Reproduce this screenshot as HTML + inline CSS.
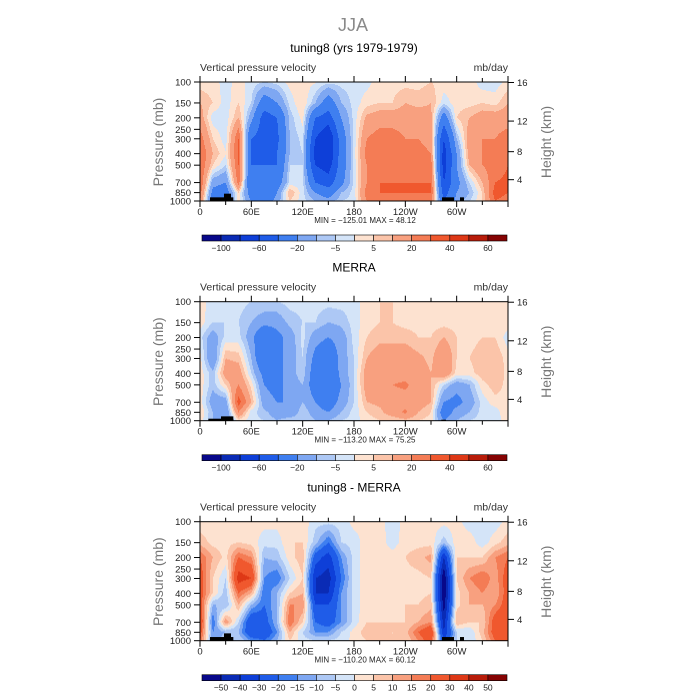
<!DOCTYPE html>
<html><head><meta charset="utf-8">
<style>
body{margin:0;background:#fff;}
svg{display:block;font-family:"Liberation Sans",sans-serif;}
</style></head>
<body>
<svg id="chart" width="700" height="700" viewBox="0 0 700 700" xmlns="http://www.w3.org/2000/svg">
<rect width="700" height="700" fill="#fff"/>
<text x="353" y="31" text-anchor="middle" font-size="18" fill="#8a8a8a">JJA</text>
</svg>
<script>
// ---------- data ----------
const levels = [100,150,200,300,400,500,700,850,1000];
const lons = [0,15,30,45,60,75,90,105,120,135,150,165,180,195,210,225,240,255,270,285,300,315,330,345,360];
const xTickLabels = ["0","60E","120E","180","120W","60W"];
const xTickLons = [0,60,120,180,240,300];
const pTicks = [100,150,200,250,300,400,500,700,850,1000];
const zTicks = [16,12,8,4];
const zTickP = [101,213,385,662];
const panelTitles = ["tuning8 (yrs 1979-1979)","MERRA","tuning8 - MERRA"];
const minMaxText = ["MIN = \u2212125.01   MAX =   48.12","MIN = \u2212113.20   MAX =   75.25","MIN = \u2212110.20   MAX =   60.12"];
const bounds1 = [-100,-80,-60,-40,-20,-10,-5,0,5,10,20,30,40,50,60];
const bounds3 = [-50,-40,-30,-20,-15,-10,-5,0,5,10,15,20,30,40,50];
const cbLabels1 = ["\u2212100","","\u221260","","\u221220","","\u22125","","5","","20","","40","","60"];
const cbLabels3 = ["\u221250","\u221240","\u221230","\u221220","\u221215","\u221210","\u22125","0","5","10","15","20","30","40","50"];
const palette = ["#08088a","#0a2bb5","#0e3fd8","#1f5ce8","#3f7ff0","#7ea7f2","#adc8f5","#d4e4f8","#fde2d0","#fbc4a9","#f8a07f","#f47c55","#f0582e","#de3816","#b81c0a","#850303"];
// columns by longitude, values top(100mb) -> bottom(1000mb)
const tuning8 = [
[2,10,15,25,30,30,30,25,20],[2,5,-3,5,10,5,-15,-25,-30],[-2,-3,-3,-3,0.5,-5,-20,-30,-30],
[2,5,10,30,30,30,25,5,3],[-2,-5,-15,-40,-40,-40,-40,-30,-20],[-5,-30,-50,-50,-50,-40,-40,-40,-30],
[-3,-20,-40,-45,-40,-40,-30,-20,-15],[2,-3,-8,-10,-10,-5,-3,10,5],[3,5,2,-3,-5,-5,-3,-3,-3],
[0.5,-10,-40,-60,-70,-60,-40,-20,-10],[-3,-30,-50,-80,-80,-70,-50,-30,-15],[-3,-10,-20,-30,-30,-30,-25,-10,-5],
[-3,-3,-3,-3,-3,-3,-3,-3,-3],[-2,3,12,20,25,20,20,25,20],[3,5,15,25,30,25,30,30,25],
[3,5,15,25,25,25,30,30,25],[3,10,15,20,25,25,30,30,25],[3,8,15,20,25,25,30,30,25],
[5,10,12,15,20,25,30,30,25],[3,-3,-30,-60,-70,-70,-60,-50,-40],[3,3,5,-10,-20,-20,-25,-20,-15],
[3,3,10,15,15,10,-5,-10,-5],[-3,5,15,20,20,20,10,5,5],[-3,3,15,20,20,25,30,35,30],
[2,10,15,25,30,30,32,30,25]];
const merra = [
[3,3,-3,2,3,3,3,5,3],[-3,-5,-15,-20,-8,-8,-15,-10,-10],[-3,-5,-3,10,15,5,-15,-20,-20],
[-3,-5,-3,8,15,20,35,20,3],[-5,-10,-15,-10,-5,3,10,-3,-3],[-5,-15,-40,-40,-25,-20,-15,-8,-5],
[-5,-15,-25,-25,-25,-25,-20,-15,-10],[-3,-8,-15,-15,-15,-15,-20,-20,-5],[-3,-5,-3,-5,-5,-10,-10,-5,-5],
[-3,-5,-15,-25,-30,-30,-20,-15,-10],[-3,-10,-20,-35,-40,-40,-30,-20,-10],[-3,-8,-15,-15,-15,-20,-15,-10,-5],
[-3,-3,-3,-5,-5,-5,-5,-3,-3],[3,3,5,10,15,15,10,5,3],[5,5,8,15,20,15,12,8,5],
[5,5,8,15,15,20,15,15,5],[3,3,8,15,15,22,15,22,8],[3,3,5,12,15,15,15,10,5],
[3,3,5,8,10,10,10,5,3],[3,3,10,20,20,-5,-20,-30,-20],[3,3,5,5,3,-15,-25,-15,-10],
[3,3,3,5,3,-10,-15,-10,-5],[3,3,5,8,8,3,-3,-3,-3],[3,3,5,10,10,8,3,-3,-3],
[3,3,-3,2,3,3,3,5,3]];
const diff = [
[2,8,20,25,25,25,30,25,20],[2,3,10,5,5,-10,-20,-15,-15],[2,3,3,-5,-8,-10,15,-10,-5],
[2,5,20,35,20,10,-5,-10,-5],[2,3,15,30,10,-10,-30,-30,-15],[2,-3,-10,-15,-20,-20,-25,-30,-20],
[2,-3,-8,-20,-10,-10,-10,-15,-10],[3,5,3,-5,5,15,20,10,5],[3,5,8,5,10,15,5,-5,-3],
[-3,-8,-25,-40,-40,-30,-20,-15,-5],[-3,-20,-35,-45,-40,-30,-25,-15,-5],[-3,-5,-15,-20,-15,-15,-15,-5,-3],
[2,-3,-3,-3,-3,-3,-3,2,2],[2,3,3,3,3,3,5,8,5],[2,3,3,3,3,3,5,8,5],
[-3,-3,3,3,3,3,5,5,5],[2,3,5,3,3,5,5,8,5],[2,3,8,3,3,5,10,20,15],
[2,3,12,5,5,8,15,30,25],[2,-8,-40,-60,-60,-55,-45,-40,-30],[2,3,5,5,3,3,10,-5,-5],
[-3,3,5,15,10,10,5,-5,-5],[-3,-3,5,20,15,10,5,8,5],[-3,3,15,12,10,15,25,25,20],
[2,8,20,25,25,25,30,25,20]];
const fields = [tuning8, merra, diff];
const boundsList = [bounds1, bounds1, bounds3];
const cbLabelList = [cbLabels1, cbLabels1, cbLabels3];

// ---------- layout ----------
const NS="http://www.w3.org/2000/svg";
const svg=document.getElementById('chart');
const X0=200, W=308, H=119;
const tops=[82,301.7,521.7];
function mk(tag,attrs,parent){const e=document.createElementNS(NS,tag);for(const k in attrs)e.setAttribute(k,attrs[k]);(parent||svg).appendChild(e);return e;}
function xScale(lon){return X0+lon/360*W;}
function yScale(p,o){return o+H*Math.log10(p/100);}
function colorFor(v,b){let i=0;while(i<b.length&&v>=b[i])i++;return palette[i];}
function valueAt(F,lon,p){
  let fi=lon/15; let i=Math.min(Math.floor(fi),lons.length-2); let tx=fi-i;
  let lp=Math.log10(p); let j=0;
  while(j<levels.length-2&&lp>Math.log10(levels[j+1]))j++;
  let a=Math.log10(levels[j]),c=Math.log10(levels[j+1]);
  let ty=Math.max(0,Math.min(1,(lp-a)/(c-a)));
  const v00=F[i][j],v10=F[i+1][j],v01=F[i][j+1],v11=F[i+1][j+1];
  return (v00*(1-tx)+v10*tx)*(1-ty)+(v01*(1-tx)+v11*tx)*ty;
}

for(let k=0;k<3;k++){
  const o=tops[k], F=fields[k], B=boundsList[k];
  const g=mk('g',{});
  
  
  const t=mk('text',{x:354,y:o-30,'text-anchor':'middle','font-size':12,fill:'#000'},g);
  t.textContent=panelTitles[k];
  
  
  const s1=mk('text',{x:200,y:o-11,'font-size':10.5,fill:'#333'},g);
  s1.textContent='Vertical pressure velocity';
  
  
  const s2=mk('text',{x:508,y:o-11,'text-anchor':'end','font-size':10.5,fill:'#333'},g);
  s2.textContent='mb/day';
  
  
  // field
  const fg=mk('g',{'shape-rendering':'crispEdges'},g);
  
  
  for(let py=0;py<H;py++){
    const p=100*Math.pow(10,(py+0.5)/H);
    let runStart=0, runCol=null;
    for(let px=0;px<=W;px++){
      let col=null;
      if(px<W){col=colorFor(valueAt(F,(px+0.5)/W*360,p),B);}
      if(col!==runCol){
        if(runCol!==null){
          const r=mk('rect',{x:X0+runStart,y:o+py,width:px-runStart,height:1,fill:runCol},fg);
          
          
        }
        runStart=px; runCol=col;
      }
    }
  }
  // topography mask
  const tg=mk('g',{fill:'#000'},g);
  
  
  const blocks=[[180,250,471],[222,243,460],[876,912,471],[930,942,471]];
  const blocksM=[[175,250,476],[213,250,469],[874,888,479]];
  const bl = k===1?blocksM:blocks;
  bl.forEach(b=>{mk('rect',{x:150+b[0]/3,y:o+(b[2]-125)/3,width:(b[1]-b[0])/3,height:H-(b[2]-125)/3},tg);});
  // frame
  const fr=mk('rect',{x:X0,y:o,width:W,height:H,fill:'none',stroke:'#000','stroke-width':1},g);
  
  
  // x ticks
  for(let lon=0;lon<=360;lon+=30){
    const x=xScale(lon), major=lon%60===0;
    mk('line',{x1:x,x2:x,y1:o+H,y2:o+H+(major?6:4),stroke:'#000'},g);
    mk('line',{x1:x,x2:x,y1:o,y2:o-(major?6:4),stroke:'#000'},g);
  }
  xTickLons.forEach((lon,i)=>{
    const tx=mk('text',{x:xScale(lon),y:o+H+14,'text-anchor':'middle','font-size':9.5,fill:'#222'},g);
    tx.textContent=xTickLabels[i];
    
    
  });
  // y ticks
  pTicks.forEach(p=>{
    const y=yScale(p,o);
    mk('line',{x1:X0-6,x2:X0,y1:y,y2:y,stroke:'#000'},g);
    const ty=mk('text',{x:X0-9,y:y+3.5,'text-anchor':'end','font-size':9.5,fill:'#222'},g);
    ty.textContent=p;
    
    
  });
  zTicks.forEach((z,i)=>{
    const y=yScale(zTickP[i],o);
    mk('line',{x1:X0+W,x2:X0+W+6,y1:y,y2:y,stroke:'#000'},g);
    const tz=mk('text',{x:X0+W+9,y:y+3.5,'font-size':9.5,fill:'#222'},g);
    tz.textContent=z;
    
    
  });
  const yt=mk('text',{x:0,y:0,'text-anchor':'middle','font-size':14,fill:'#777',transform:`translate(163,${o+60}) rotate(-90)`},g);
  yt.textContent='Pressure (mb)';
  
  
  const rt=mk('text',{x:0,y:0,'text-anchor':'middle','font-size':14,fill:'#777',transform:`translate(551,${o+60}) rotate(-90)`},g);
  rt.textContent='Height (km)';
  
  
  const mm=mk('text',{x:365,y:o+H+22,'text-anchor':'middle','font-size':8,fill:'#222'},g);
  mm.textContent=minMaxText[k];
  
  
  // colorbar
  const cb=mk('g',{},g);
  
  
  const cx0=202, cw=305/16, cy=o+153;
  palette.forEach((c,i)=>{
    const r=mk('rect',{x:cx0+i*cw,y:cy,width:cw,height:6,fill:c,stroke:'#000','stroke-width':0.6},cb);
    
    
  });
  cbLabelList[k].forEach((l,i)=>{
    if(!l) return;
    const tl=mk('text',{x:cx0+(i+1)*cw,y:cy+16,'text-anchor':'middle','font-size':8.5,fill:'#222'},cb);
    tl.textContent=l;
    
    
  });
}
</script>
</body></html>
